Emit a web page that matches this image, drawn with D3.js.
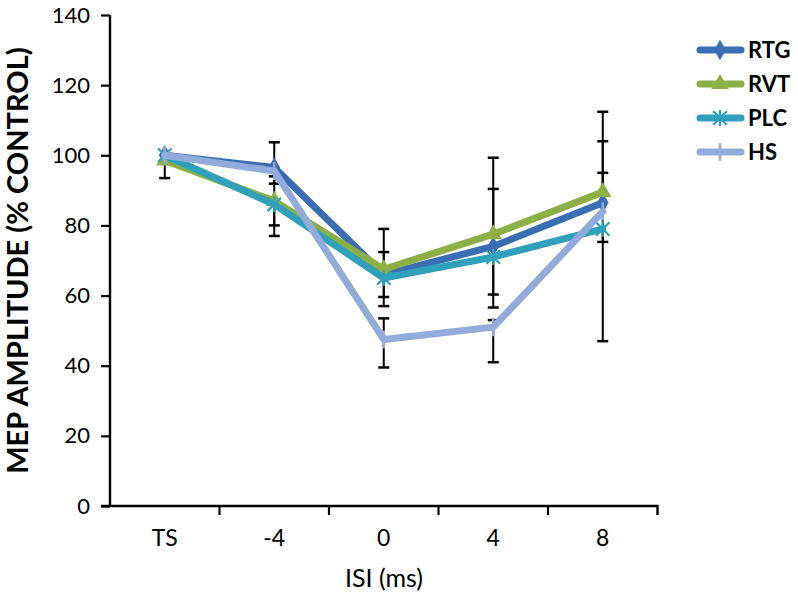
<!DOCTYPE html>
<html><head><meta charset="utf-8">
<script src="https://cdn.jsdelivr.net/npm/d3@7"></script>
<style>body{margin:0;background:#fff;} svg{display:block;font-family:Lato, "Open Sans", sans-serif;}</style>
</head><body>
<svg id="c" width="798" height="600"></svg>
<script>
const categories = ["TS", "-4", "0", "4", "8"];
const seriesNames = ["RTG", "RVT", "PLC", "HS"];
const seriesColors = ["#3b6db3", "#8cb045", "#31a0bb", "#93abda"];
const rtg = [100, 96.5, 66, 74, 86.5];
const rvt = [98.5, 87, 67.5, 77.5, 89.5];
const plc = [100, 86, 65, 71, 79];
const hs  = [100, 95.5, 47.5, 51, 84];
// error bar extents (plus / minus)
const rtgErrPlus  = [0, 7.2, 6.4, 16.4, 17.5];
const rtgErrMinus = [0, 0, 6.4, 13.7, 0];
const rvtErrPlus  = [0, 7, 11.5, 21.8, 22.9];
const rvtErrMinus = [5, 7, 0, 0, 0];
const plcErrPlus  = [0, 0, 0, 0, 0];
const plcErrMinus = [0, 9, 8, 14.4, 3.7];
const hsErrPlus   = [0, 0, 6, 2, 11];
const hsErrMinus  = [0, 3.6, 8, 10, 37];
const yTicks = [0, 20, 40, 60, 80, 100, 120, 140];

const values = [rtg, rvt, plc, hs];
const errP = [rtgErrPlus, rvtErrPlus, plcErrPlus, hsErrPlus];
const errM = [rtgErrMinus, rvtErrMinus, plcErrMinus, hsErrMinus];

const svg = d3.select("#c");
const x = d3.scaleBand().domain(categories).range([110, 657.5]).padding(0);
const y = d3.scaleLinear().domain([0, 140]).range([506, 15]);
const cx = c => x(c) + x.bandwidth() / 2;

// Y axis
const yAxis = svg.append("g").attr("transform", "translate(110,0)")
  .call(d3.axisLeft(y).tickValues(yTicks).tickSize(9).tickPadding(11));
yAxis.attr("font-size", null).attr("font-family", null);
yAxis.select(".domain").attr("stroke", "#000").attr("stroke-width", 2.4).attr("d", `M0,${y(140)}V${y(0)+1}`);
yAxis.selectAll(".tick line").attr("stroke", "#000").attr("stroke-width", 2.2);
yAxis.selectAll(".tick text").style("font-size", "22px").attr("fill", "#000").style("font-family", "Lato, sans-serif");

// X axis
const xAxis = svg.append("g").attr("transform", "translate(0,506)")
  .call(d3.axisBottom(x).tickSize(0).tickPadding(24));
xAxis.attr("font-size", null).attr("font-family", null);
xAxis.select(".domain").attr("stroke", "#000").attr("stroke-width", 2.4).attr("d", `M${x.range()[0]-9},0H${x.range()[1]}V9`);
xAxis.selectAll(".tick text").style("font-size", "23px").attr("fill", "#000").style("font-family", "Lato, sans-serif");
const bounds = categories.slice(1).map(c => x(c));
xAxis.selectAll(".btick").data(bounds).join("line").attr("class", "btick")
  .attr("x1", d => d).attr("x2", d => d).attr("y1", 0).attr("y2", 9)
  .attr("stroke", "#000").attr("stroke-width", 2.2);

// Axis titles
svg.append("text").attr("x", 384).attr("y", 587).attr("text-anchor", "middle")
  .style("font-size", "25px").attr("fill", "#000").style("font-family", "Lato, sans-serif").text("ISI (ms)");
svg.append("text").attr("transform", `translate(28,${(y(0)+y(140))/2}) rotate(-90)`)
  .attr("text-anchor", "middle").style("font-size", "29px").attr("font-weight", "bold").attr("fill", "#000")
  .style("font-family", "Lato, sans-serif").text("MEP AMPLITUDE (% CONTROL)");

// Error bars (behind lines)
const eb = svg.append("g");
values.forEach((vals, si) => {
  vals.forEach((v, i) => {
    const xc = cx(categories[i]);
    const hi = v + errP[si][i], lo = v - errM[si][i];
    if (errP[si][i] > 0) {
      eb.append("line").attr("x1", xc).attr("x2", xc).attr("y1", y(v)).attr("y2", y(hi)).attr("stroke", "#000").attr("stroke-width", 2);
      eb.append("line").attr("x1", xc - 5.5).attr("x2", xc + 5.5).attr("y1", y(hi)).attr("y2", y(hi)).attr("stroke", "#000").attr("stroke-width", 2.5);
    }
    if (errM[si][i] > 0) {
      eb.append("line").attr("x1", xc).attr("x2", xc).attr("y1", y(v)).attr("y2", y(lo)).attr("stroke", "#000").attr("stroke-width", 2);
      eb.append("line").attr("x1", xc - 5.5).attr("x2", xc + 5.5).attr("y1", y(lo)).attr("y2", y(lo)).attr("stroke", "#000").attr("stroke-width", 2.5);
    }
  });
});

// marker drawing
function drawMarker(g, si, px, py, col) {
  if (si === 0) {
    g.append("path").attr("d", d3.symbol().type(d3.symbolDiamond).size(120)()).attr("transform", `translate(${px},${py})`).attr("fill", col);
  } else if (si === 1) {
    g.append("path").attr("d", d3.symbol().type(d3.symbolTriangle).size(130)()).attr("transform", `translate(${px},${py})`).attr("fill", col);
  } else if (si === 2) {
    g.append("path").attr("d", d3.symbol().type(d3.symbolTimes).size(120)()).attr("transform", `translate(${px},${py})`).attr("fill", "none").attr("stroke", col).attr("stroke-width", 2.2);
    g.append("path").attr("d", `M0,-8V8`).attr("transform", `translate(${px},${py})`).attr("stroke", col).attr("stroke-width", 2.2);
  } else {
    g.append("path").attr("d", `M0,-9V9`).attr("transform", `translate(${px},${py})`).attr("stroke", col).attr("stroke-width", 2.5);
  }
}

// Lines
const line = d3.line().x((d, i) => cx(categories[i])).y(d => y(d));
values.forEach((vals, si) => {
  const g = svg.append("g");
  g.append("path").datum(vals).attr("d", line).attr("fill", "none")
    .attr("stroke", seriesColors[si]).attr("stroke-width", 7).attr("stroke-linejoin", "round").attr("stroke-linecap", "round");
  vals.forEach((v, i) => drawMarker(g, si, cx(categories[i]), y(v), seriesColors[si]));
});

// Legend
const legendY = [50, 84, 118, 152];
seriesNames.forEach((name, si) => {
  const g = svg.append("g");
  const ly = legendY[si];
  g.append("line").attr("x1", 700).attr("x2", 741).attr("y1", ly).attr("y2", ly)
    .attr("stroke", seriesColors[si]).attr("stroke-width", 7).attr("stroke-linecap", "round");
  drawMarker(g, si, 720, ly, seriesColors[si]);
  g.append("text").attr("x", 748).attr("y", ly + 8).style("font-size", "22px").attr("font-weight", "bold")
    .attr("fill", "#000").style("font-family", "Lato, sans-serif").text(name);
});
</script>
</body></html>
